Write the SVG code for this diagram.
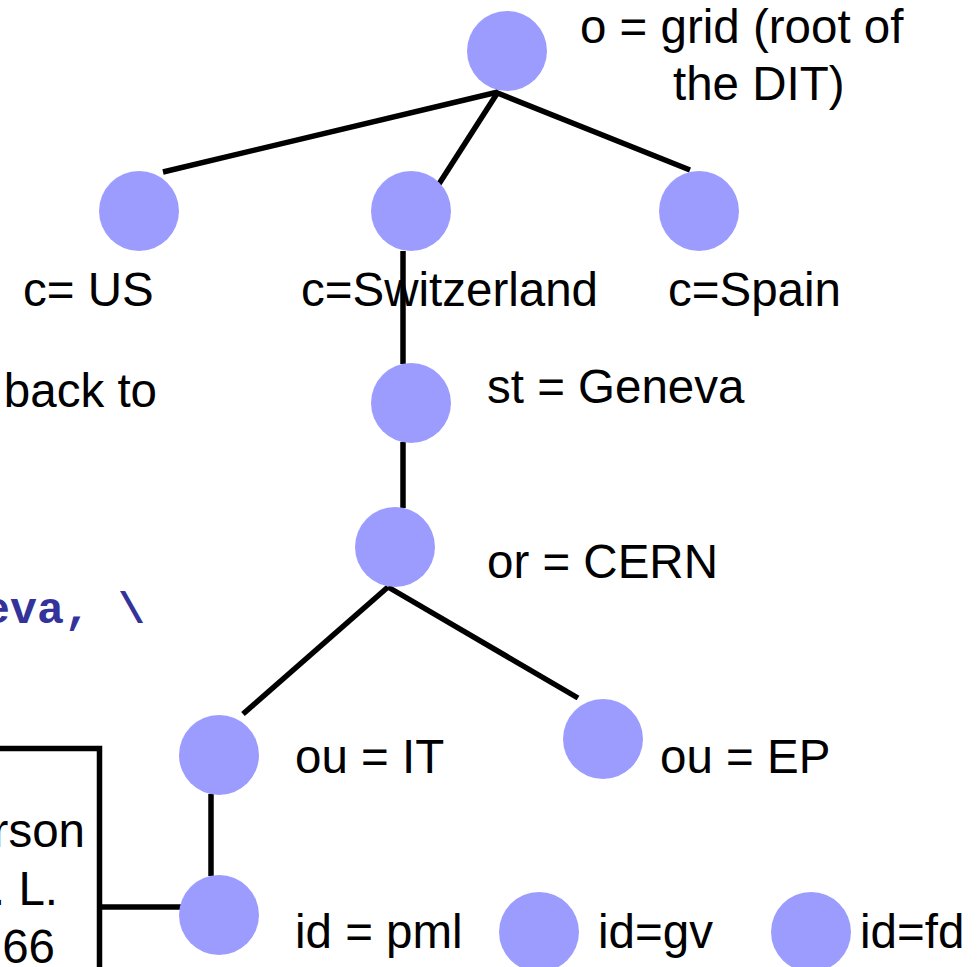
<svg xmlns="http://www.w3.org/2000/svg" width="979" height="967" viewBox="0 0 979 967">
  <style>
    .lbl { font-family: "Liberation Sans", Arial, sans-serif; font-size: 47.5px; fill: #000; }
    .code { font-family: "Liberation Mono", "Courier New", monospace; font-size: 45px; font-weight: bold; fill: #333399; }
    .edge { stroke: #000; stroke-width: 5.5; fill: none; }
    .node circle { fill: #9C9CFF; }
  </style>
  <rect width="979" height="967" fill="#fff"/>

  <!-- text fragments at the left edge -->
  <text class="lbl" x="157" y="407" text-anchor="end">back to</text>
  <text class="code" x="-17" y="623">eva, \</text>

  <!-- entry box at the bottom left -->
  <g id="entry-box">
    <path class="edge" d="M -10 748.5 H 99.5 V 980" stroke-width="6"/>
    <text class="lbl" x="85" y="847" text-anchor="end">rson</text>
    <text class="lbl" x="58" y="905" text-anchor="end">. L.</text>
    <text class="lbl" x="55" y="963" text-anchor="end">66</text>
  </g>

  <!-- connectors -->
  <g id="connectors">
    <line class="edge" x1="498" y1="92" x2="163" y2="172"/>
    <line class="edge" x1="498" y1="92" x2="437" y2="187"/>
    <line class="edge" x1="495" y1="92" x2="690" y2="170"/>
    <line class="edge" x1="403" y1="251" x2="403" y2="364"/>
    <line class="edge" x1="403" y1="442" x2="403" y2="508"/>
    <line class="edge" x1="388" y1="587" x2="243" y2="714"/>
    <line class="edge" x1="388" y1="587" x2="578" y2="698"/>
    <line class="edge" x1="211" y1="794" x2="211" y2="876"/>
    <line class="edge" x1="99" y1="907" x2="181" y2="907"/>
  </g>

  <!-- directory tree nodes -->
  <g id="node-root" class="node">
    <circle cx="507" cy="51" r="40"/>
    <text class="lbl" x="580" y="43">o = grid (root of</text>
    <text class="lbl" x="673" y="100">the DIT)</text>
  </g>
  <g id="node-us" class="node">
    <circle cx="139" cy="211" r="40"/>
    <text class="lbl" x="23" y="306">c= US</text>
  </g>
  <g id="node-switzerland" class="node">
    <circle cx="411" cy="211" r="40"/>
    <text class="lbl" x="301" y="306">c=Switzerland</text>
  </g>
  <g id="node-spain" class="node">
    <circle cx="699" cy="211" r="40"/>
    <text class="lbl" x="668" y="306">c=Spain</text>
  </g>
  <g id="node-geneva" class="node">
    <circle cx="411" cy="403" r="40"/>
    <text class="lbl" x="487" y="403">st = Geneva</text>
  </g>
  <g id="node-cern" class="node">
    <circle cx="395" cy="547" r="40"/>
    <text class="lbl" x="487" y="578">or = CERN</text>
  </g>
  <g id="node-it" class="node">
    <circle cx="219" cy="755" r="40"/>
    <text class="lbl" x="295" y="773">ou = IT</text>
  </g>
  <g id="node-ep" class="node">
    <circle cx="603" cy="739" r="40"/>
    <text class="lbl" x="660" y="773">ou = EP</text>
  </g>
  <g id="node-pml" class="node">
    <circle cx="219" cy="915" r="40"/>
    <text class="lbl" x="295" y="948">id = pml</text>
  </g>
  <g id="node-gv" class="node">
    <circle cx="539" cy="932" r="40"/>
    <text class="lbl" x="598" y="948">id=gv</text>
  </g>
  <g id="node-fd" class="node">
    <circle cx="811" cy="932" r="40"/>
    <text class="lbl" x="860" y="948">id=fd</text>
  </g>
</svg>
